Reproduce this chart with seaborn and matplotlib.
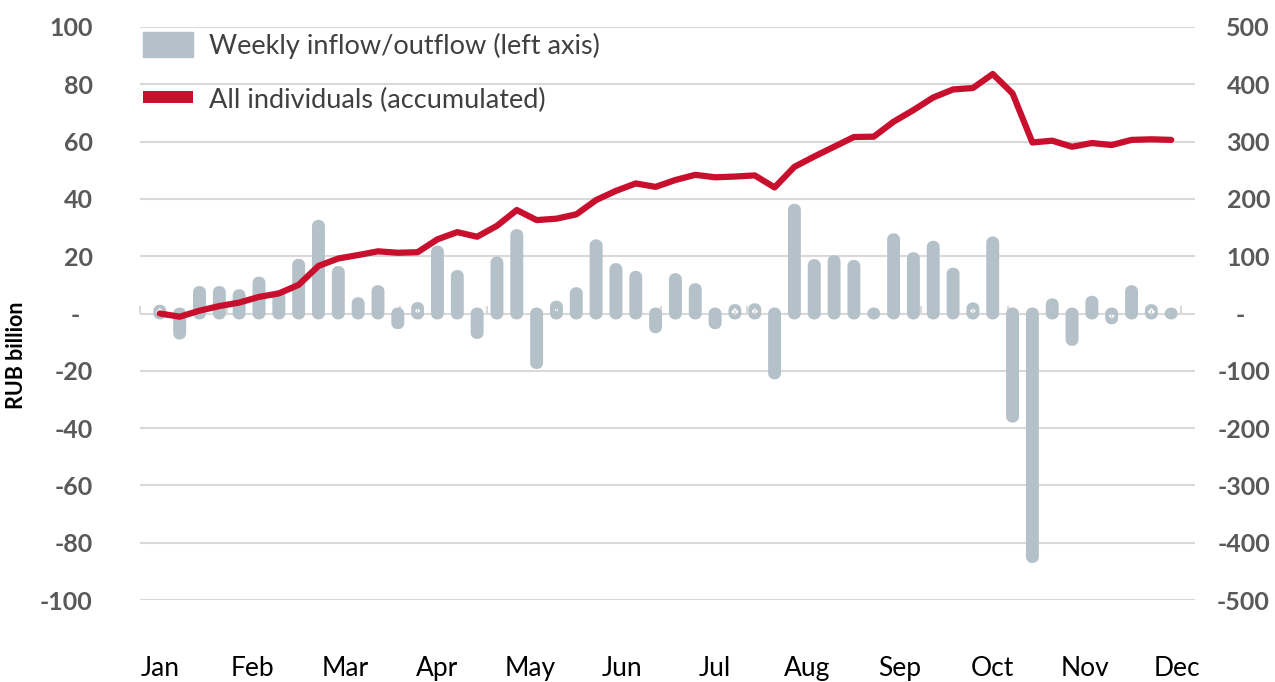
import numpy as np
import matplotlib
matplotlib.use("Agg")
from matplotlib import pyplot as plt
from matplotlib.patches import Patch
from matplotlib.lines import Line2D
import seaborn as sns

# weekly flows, RUB billion (left axis)
weeks = list(range(1, 53))
flows = [1, -7, 7.5, 7.5, 6.4, 10.8, 6.1, 17, 30.6, 14.5, 3.6, 7.8, -3.4,
         1.9, 21.6, 13.1, -6.8, 17.8, 27.4, -17.3, 2.4, 7.1, 23.8, 15.5,
         12.8, -4.8, 12.0, 8.5, -3.4, 1.2, 1.5, -20.9, 36.2, 16.9, 18.3,
         16.6, 0.0, 25.9, 19.3, 23.3, 13.9, 1.8, 24.8, -36, -85, 3.2, -9.2,
         4.1, -1.7, 7.8, 1.2, 0.0]
# accumulated, RUB billion (right axis)
accum = [0, -5.6, 4.9, 13, 19, 29, 35, 50, 83, 96, 102, 108.5, 106, 107,
         129.5, 142, 134, 153, 180.6, 163, 165.5, 173, 198, 214, 227, 221,
         233, 242, 237.7, 239, 241, 220, 256, 274, 291, 308, 308.6, 334.7,
         355, 377, 391, 393.5, 418, 384, 298.5, 301.6, 291, 297.5, 294, 303,
         304, 303]
months = ["Jan", "Feb", "Mar", "Apr", "May", "Jun", "Jul", "Aug", "Sep",
          "Oct", "Nov", "Dec"]
left_ticks = list(range(-100, 101, 20))
right_ticks = list(range(-500, 501, 100))

GREY = "#b5c1c9"
RED = "#c8102e"
GRID = "#d9d9d9"
LAB = "#595959"

sns.set_theme(style="white")
plt.rcParams["font.family"] = ["Lato", "DejaVu Sans"]
plt.rcParams["path.simplify"] = False

fig = plt.figure(figsize=(12.75, 6.82), dpi=100)
ax = fig.add_axes([140 / 1275, 1 - 600 / 682, (1195 - 140) / 1275, 573 / 682])

sns.barplot(x=weeks, y=flows, ax=ax, native_scale=True, color=GREY,
            saturation=1, width=0.05, linewidth=8.6, edgecolor=GREY, zorder=3)
for p in ax.patches:
    p.set_joinstyle("round")
    p.set_capstyle("round")
    p.set_snap(False)

ax.set_xlim(0, 53.2)
ax.set_ylim(-100, 100)
ax.set_yticks(left_ticks)
ax.set_yticklabels([str(v) if v else "-  " for v in left_ticks])
ax.grid(axis="y", color=GRID, lw=1.5, zorder=0)
ax.grid(axis="x", visible=False)
for s in ax.spines.values():
    s.set_visible(False)
ax.tick_params(axis="y", length=0, pad=34, labelsize=18, labelcolor=LAB)

ax.set_xticks(np.linspace(1, 52.3, 12))
ax.set_xticklabels(months)
ax.tick_params(axis="x", length=0, pad=40, labelsize=19, labelcolor="black")
ax.set_ylabel("RUB billion", fontsize=15.5, fontweight="bold", color="black")
ax.yaxis.set_label_coords(-0.107, 0.428)

# small category ticks on the zero line
sec = ax.secondary_xaxis(0.5)
sec.set_xticks(np.linspace(0, 52.5, 13))
sec.set_xticklabels([])
sec.tick_params(length=5, width=1.5, color=GRID, direction="out")
for s in sec.spines.values():
    s.set_visible(False)

ax2 = ax.twinx()
sns.lineplot(x=weeks, y=accum, ax=ax2, color=RED, lw=4.5)
ax2.set_ylim(-500, 500)
ax2.set_yticks(right_ticks)
ax2.set_yticklabels([str(v) if v else "-    " for v in right_ticks])
ax2.set_ylabel("")
for s in ax2.spines.values():
    s.set_visible(False)
ax2.tick_params(axis="y", length=0, pad=54, labelsize=18, labelcolor=LAB)

handles = [Patch(facecolor=GREY, edgecolor=GREY),
           Line2D([], [], color=RED, lw=8.6, solid_capstyle="butt")]
fig.legend(handles, ["Weekly inflow/outflow (left axis)",
                     "All individuals (accumulated)"],
           loc="upper left", bbox_to_anchor=(143 / 1275, 1 - 32 / 682),
           frameon=False, fontsize=19.5, handlelength=1.85, handleheight=1.05,
           handletextpad=0.6, labelspacing=1.0, borderpad=0,
           borderaxespad=0, labelcolor="#404040")

fig.canvas.draw()
for t in ax.get_yticklabels():
    t.set_fontweight("bold")
for t in ax2.get_yticklabels():
    t.set_fontweight("bold")
    t.set_horizontalalignment("right")

fig.savefig("out.png", dpi=100)
